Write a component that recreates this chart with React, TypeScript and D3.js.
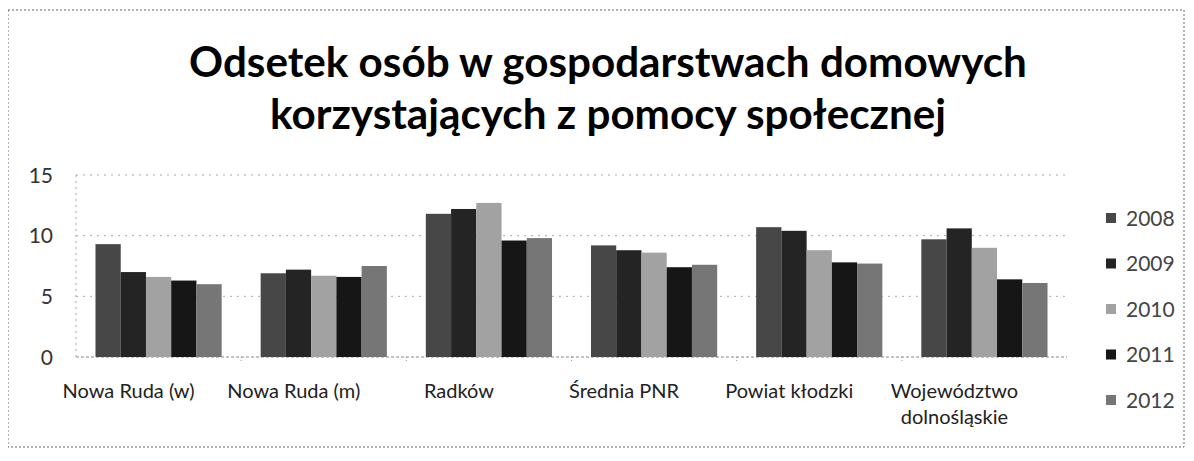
import React, { useEffect, useRef } from 'react'
import { select, scaleBand, scaleLinear } from 'd3'

// categories (x axis) and series
const categories = ['Nowa Ruda (w)', 'Nowa Ruda (m)', 'Radków', 'Średnia PNR', 'Powiat kłodzki', 'Województwo dolnośląskie']
const years = ['2008', '2009', '2010', '2011', '2012']

const values2008 = [9.3, 6.9, 11.8, 9.2, 10.7, 9.7]
const values2009 = [7.0, 7.2, 12.2, 8.8, 10.4, 10.6]
const values2010 = [6.6, 6.7, 12.7, 8.6, 8.8, 9.0]
const values2011 = [6.3, 6.6, 9.6, 7.4, 7.8, 6.4]
const values2012 = [6.0, 7.5, 9.8, 7.6, 7.7, 6.1]

const yTicks = [0, 5, 10, 15]
const titleLines = ['Odsetek osób w gospodarstwach domowych', 'korzystających z pomocy społecznej']

const seriesValues = [values2008, values2009, values2010, values2011, values2012]
const colors = ['#474747', '#242424', '#a2a2a2', '#161616', '#767676']

const W = 1194
const H = 461

function App() {
  const svgRef = useRef<SVGSVGElement | null>(null)

  useEffect(() => {
    const svg = select(svgRef.current)
    svg.selectAll('*').remove()

    const x = scaleBand<string>()
      .domain(categories)
      .range([76, 1067])
      .paddingInner(0.236)
      .paddingOuter(0.118)

    const x1 = scaleBand<string>()
      .domain(years)
      .range([0, x.bandwidth()])

    const y = scaleLinear()
      .domain([0, 15])
      .range([357, 175])

    // outer frame (dotted, like the scanned border)
    svg.append('rect')
      .attr('x', 8).attr('y', 10)
      .attr('width', 1176).attr('height', 437)
      .attr('fill', 'none')
      .attr('stroke', '#666')
      .attr('stroke-dasharray', '2,2')

    // title - size it so the first line is as wide as in the scan
    const title = svg.append('g')
      .selectAll('text')
      .data(titleLines)
      .join('text')
      .attr('x', 608)
      .attr('y', (d, i) => 77 + i * 52)
      .attr('text-anchor', 'middle')
      .attr('font-family', 'Lato, sans-serif')
      .attr('font-weight', 'bold')
      .attr('font-size', 40)
      .attr('fill', '#000')
      .text(d => d)
    const first = title.node() as SVGTextElement | null
    if (first) {
      const w = first.getComputedTextLength()
      if (w > 0) title.attr('font-size', 40 * 838 / w)
    }

    // gridlines
    svg.append('g')
      .selectAll('line')
      .data(yTicks)
      .join('line')
      .attr('x1', x.range()[0])
      .attr('x2', x.range()[1])
      .attr('y1', d => y(d))
      .attr('y2', d => y(d))
      .attr('stroke', d => (d === 0 ? '#888' : '#aaa'))
      .attr('stroke-dasharray', d => (d === 0 ? '3,2' : '2,5'))

    // vertical axis line (dotted)
    svg.append('line')
      .attr('x1', x.range()[0]).attr('x2', x.range()[0])
      .attr('y1', y(15)).attr('y2', y(0))
      .attr('stroke', '#aaa')
      .attr('stroke-dasharray', '2,4')

    // category separator ticks under baseline
    svg.append('g')
      .selectAll('line')
      .data(categories.slice(1))
      .join('line')
      .attr('x1', d => (x(d) as number) - x.step() * x.paddingInner() / 2)
      .attr('x2', d => (x(d) as number) - x.step() * x.paddingInner() / 2)
      .attr('y1', y(0))
      .attr('y2', y(0) + 6)
      .attr('stroke', '#999')
      .attr('stroke-dasharray', '1,2')

    // y tick labels
    svg.append('g')
      .selectAll('text')
      .data(yTicks)
      .join('text')
      .attr('x', 53)
      .attr('y', d => y(d))
      .attr('dy', '0.36em')
      .attr('text-anchor', 'end')
      .attr('font-family', 'Lato, sans-serif')
      .attr('font-size', 21)
      .attr('fill', '#333')
      .text(d => d)

    // bars
    svg.append('g')
      .selectAll('g')
      .data(years)
      .join('g')
      .attr('fill', (d, i) => colors[i])
      .selectAll('rect')
      .data((yr, si) => categories.map((c, ci) => ({ c, yr, v: seriesValues[si][ci] })))
      .join('rect')
      .attr('x', d => (x(d.c) as number) + (x1(d.yr) as number))
      .attr('y', d => y(d.v))
      .attr('width', x1.bandwidth())
      .attr('height', d => y(0) - y(d.v))

    // x labels (long label wraps onto two lines)
    const labelShift = -30
    const xLabels = svg.append('g')
      .selectAll('text')
      .data(categories)
      .join('text')
      .attr('x', d => (x(d) as number) + x.bandwidth() / 2 + labelShift)
      .attr('y', 391)
      .attr('text-anchor', 'middle')
      .attr('font-family', 'Lato, sans-serif')
      .attr('font-size', 20)
      .attr('fill', '#222')
    xLabels.each(function (d) {
      const t = select(this)
      const parts = d.length > 16 ? d.split(' ') : [d]
      const cx = t.attr('x')
      parts.forEach((p, i) => {
        t.append('tspan')
          .attr('x', cx)
          .attr('dy', i === 0 ? '0.35em' : '1.3em')
          .text(p)
      })
    })

    // legend
    const legend = svg.append('g')
      .selectAll('g')
      .data(years)
      .join('g')
      .attr('transform', (d, i) => `translate(1106, ${218 + i * 45.5})`)
    legend.append('rect')
      .attr('x', 0).attr('y', -5)
      .attr('width', 10).attr('height', 10)
      .attr('fill', (d, i) => colors[i])
    legend.append('text')
      .attr('x', 20)
      .attr('y', 0)
      .attr('dy', '0.36em')
      .attr('font-family', 'Lato, sans-serif')
      .attr('font-size', 21)
      .attr('fill', '#444')
      .text(d => d)
  }, [])

  return (
    <svg ref={svgRef} width={W} height={H} style={{ display: 'block', background: '#fff', margin: -8 }} />
  )
}

export default App
